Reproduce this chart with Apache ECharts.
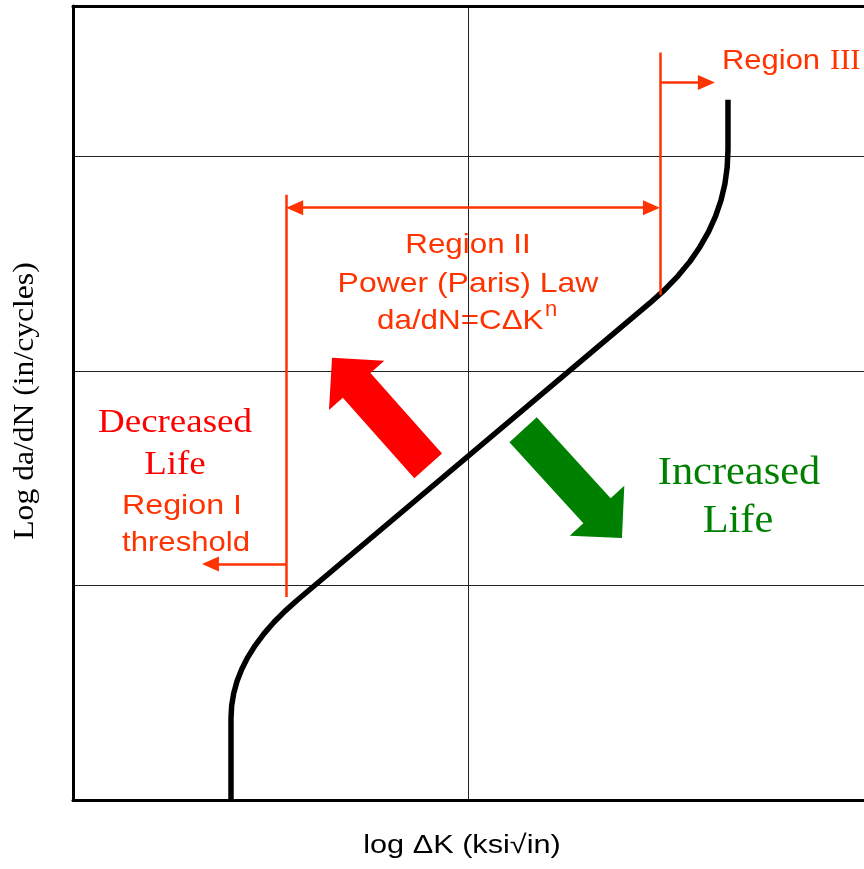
<!DOCTYPE html>
<html>
<head>
<meta charset="utf-8">
<script src="https://cdn.jsdelivr.net/npm/echarts@6/dist/echarts.min.js"></script>
<style>
  html, body { margin: 0; padding: 0; background: #fff; }
  #chart { width: 864px; height: 869px; }
</style>
</head>
<body>
<div id="chart"></div>
<script>
// crack growth curve: log dK vs log da/dN (schematic units)
const logDK = [0.3995, 0.3995, 0.4012, 0.4063, 0.4147, 0.4266, 0.4418, 0.4605, 0.4825, 0.5079,
  0.5367, 0.5689, 1.4589, 1.4964, 1.5300, 1.5596, 1.5851, 1.6068, 1.6245, 1.6384, 1.6483, 1.6541,
  1.6561, 1.6561];
const logRate = [0.0000, 0.3823, 0.4398, 0.4969, 0.5534, 0.6093, 0.6648, 0.7197, 0.7742, 0.8281,
  0.8814, 0.9343, 2.3161, 2.3783, 2.4425, 2.5088, 2.5772, 2.6476, 2.7200, 2.7945, 2.8710, 2.9497,
  3.0303, 3.2634];

// region boundaries on the log dK axis
const regionBounds = [0.539, 1.484];
// block arrows: [fromX, fromY, toX, toY]
const lifeArrows = [
  [0.898, 1.557, 0.655, 2.061],
  [1.138, 1.725, 1.388, 1.221]
];
const arrowColors = ['#ff0000', '#008000'];

const annoColor = '#ff3300';
const sans = '"Liberation Sans", Arial, sans-serif';
const serif = '"Liberation Serif", "Times New Roman", serif';

const chart = echarts.init(document.getElementById('chart'));

const headHalf = 0.0215; // half arrowhead length in x units
const b0 = regionBounds[0];
const b1 = regionBounds[1];

function txt(text, x, y, font, fill, opts, align) {
  return Object.assign({
    type: 'text',
    x: x,
    y: y,
    silent: true,
    style: {
      text: text,
      font: font,
      fill: fill,
      align: align || 'center',
      verticalAlign: 'middle'
    }
  }, opts || {});
}

const option = {
  animation: false,
  grid: { left: 73, top: 6, right: 0, bottom: 69 },
  xAxis: [
    {
      type: 'value',
      min: 0,
      max: 2,
      interval: 1,
      axisLine: { show: true, onZero: false, lineStyle: { color: '#000', width: 3 } },
      axisTick: { show: false },
      axisLabel: { show: false },
      splitLine: { show: true, lineStyle: { color: '#222', width: 1 } }
    },
    {
      type: 'value',
      position: 'top',
      min: 0,
      max: 2,
      axisLine: { show: true, onZero: false, lineStyle: { color: '#000', width: 3 } },
      axisTick: { show: false },
      axisLabel: { show: false },
      splitLine: { show: false }
    }
  ],
  yAxis: {
    type: 'value',
    min: 0,
    max: 3.7,
    interval: 1,
    axisLine: { show: true, onZero: false, lineStyle: { color: '#000', width: 3 } },
    axisTick: { show: false },
    axisLabel: { show: false },
    splitLine: { show: true, lineStyle: { color: '#222', width: 1 } }
  },
  series: [
    {
      type: 'custom',
      silent: true,
      z: 3,
      data: lifeArrows,
      encode: { x: [0, 2], y: [1, 3] },
      renderItem: function (params, api) {
        const p0 = api.coord([api.value(0), api.value(1)]);
        const p1 = api.coord([api.value(2), api.value(3)]);
        const dx = p1[0] - p0[0];
        const dy = p1[1] - p0[1];
        const len = Math.hypot(dx, dy);
        const ux = dx / len, uy = dy / len;
        const nx = -uy, ny = ux;
        const shaft = 18.5, head = 37, headLen = 37;
        const bx = p1[0] - ux * headLen, by = p1[1] - uy * headLen;
        return {
          type: 'polygon',
          shape: {
            points: [
              [p0[0] + nx * shaft, p0[1] + ny * shaft],
              [bx + nx * shaft, by + ny * shaft],
              [bx + nx * head, by + ny * head],
              p1,
              [bx - nx * head, by - ny * head],
              [bx - nx * shaft, by - ny * shaft],
              [p0[0] - nx * shaft, p0[1] - ny * shaft]
            ]
          },
          style: { fill: arrowColors[params.dataIndex] }
        };
      }
    },
    {
      type: 'line',
      z: 4,
      data: logDK.map((x, i) => [x, logRate[i]]),
      showSymbol: false,
      silent: true,
      lineStyle: { color: '#000', width: 5.5, cap: 'butt', join: 'round' },
      markLine: {
        silent: true,
        symbol: 'none',
        symbolSize: [15, 17],
        label: { show: false },
        lineStyle: { color: annoColor, width: 2.5, type: 'solid' },
        data: [
          [{ coord: [b0, 0.946] }, { coord: [b0, 2.821] }],
          [{ coord: [b1, 2.354] }, { coord: [b1, 3.483] }],
          [{ coord: [b0 + headHalf, 2.760], symbol: 'triangle' },
           { coord: [b1 - headHalf, 2.760], symbol: 'triangle' }],
          [{ coord: [b1, 3.343] }, { coord: [1.623 - headHalf, 3.343], symbol: 'triangle' }],
          [{ coord: [b0, 1.100] }, { coord: [0.326 + headHalf, 1.100], symbol: 'triangle' }]
        ]
      }
    }
  ],
  graphic: [
    txt('Region', 722, 61, '28px ' + sans, annoColor, { scaleX: 1.105 }, 'left'),
    txt('III', 830, 61, '29px ' + serif, annoColor, { scaleX: 1.05 }, 'left'),
    txt('Region II', 468, 245, '28px ' + sans, annoColor, { scaleX: 1.12 }),
    txt('Power (Paris) Law', 468, 284, '28px ' + sans, annoColor, { scaleX: 1.14 }),
    txt('da/dN=C\u0394K', 377, 321, '28px ' + sans, annoColor, { scaleX: 1.12 }, 'left'),
    txt('n', 545, 310, '22px ' + sans, annoColor, {}, 'left'),
    txt('Decreased', 175, 423, '33px ' + serif, '#ff0000', { scaleX: 1.12 }),
    txt('Life', 175, 465, '33px ' + serif, '#ff0000', { scaleX: 1.12 }),
    txt('Region I', 182, 506, '28px ' + sans, annoColor, { scaleX: 1.15 }),
    txt('threshold', 186, 543, '28px ' + sans, annoColor, { scaleX: 1.11 }),
    txt('Increased', 739, 473, '40px ' + serif, '#008000', { scaleX: 1.06 }),
    txt('Life', 738, 521, '40px ' + serif, '#008000', { scaleX: 1.06 }),
    txt('Log da/dN (in/cycles)', 25, 401, '29px ' + serif, '#000', { rotation: Math.PI / 2, scaleX: 1.09 }),
    txt('log \u0394K (ksi\u221Ain)', 462, 846, '26px ' + sans, '#000', { scaleX: 1.18 })
  ]
};

chart.setOption(option);
</script>
</body>
</html>
